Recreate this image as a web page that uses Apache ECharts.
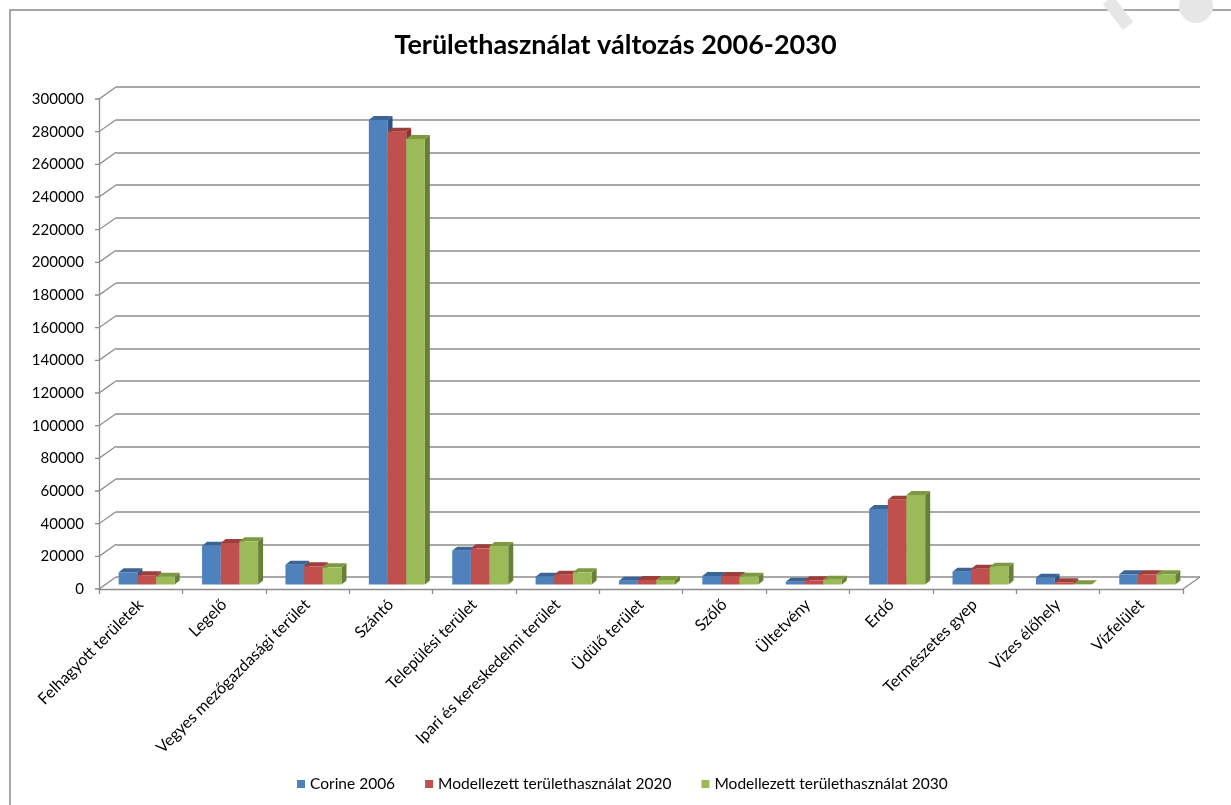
<!DOCTYPE html>
<html>
<head>
<meta charset="utf-8">
<script src="https://cdn.jsdelivr.net/npm/echarts@6/dist/echarts.min.js"></script>
<style>
  html, body { margin: 0; padding: 0; background: #fff; }
  #plot { width: 1231px; height: 805px; }
</style>
</head>
<body>
<div id="plot"></div>
<script>
var categories = ['Felhagyott területek', 'Legelő', 'Vegyes mezőgazdasági terület', 'Szántó',
	'Települési terület', 'Ipari és kereskedelmi terület', 'Üdülő terület', 'Szőlő',
	'Ültetvény', 'Erdő', 'Természetes gyep', 'Vizes élőhely', 'Vízfelület'];
var seriesNames = ['Corine 2006', 'Modellezett területhasználat 2020', 'Modellezett területhasználat 2030'];
var corine2006 = [7500, 23750, 12100, 284400, 20700, 4800, 2300, 5200, 1700, 46200, 7850, 4150, 6250];
var model2020 = [5700, 25400, 11150, 277200, 22150, 6000, 2750, 5200, 2600, 51900, 9650, 1350, 6250];
var model2030 = [4800, 26450, 10500, 272700, 23550, 7450, 2750, 4800, 2950, 54800, 10900, 100, 6250];
var yTicks = [0, 20000, 40000, 60000, 80000, 100000, 120000, 140000, 160000, 180000,
	200000, 220000, 240000, 260000, 280000, 300000];

var fontFam = 'Lato, "Open Sans", sans-serif';
var lineCol = '#8c8c8c';
// front, top, side colours per series
var faces = [
	['#4f81bd', '#3b6595', '#2f5380'],
	['#c0504d', '#9e3e3b', '#8a3431'],
	['#9bbb59', '#7d9a43', '#687f37']
];

function toPairs (arr) {
	var out = [];
	for (var i = 0; i < arr.length; i++) out.push([i, arr[i]]);
	return out;
}

function barRenderer (k) {
	return function (params, api) {
		var base = api.coord([api.value(0), 0]);
		var top = api.coord([api.value(0), api.value(1)]);
		var band = api.size([1, 0])[0];
		var bw = band * 0.224;
		var sx = 6, sy = -4.5, dx = 5, dy = -4;
		var x0 = base[0] - 1.5 * bw + k * bw + sx;
		var yb = base[1] + sy;
		var yt = top[1] + sy;
		var f = faces[k];
		return {
			type: 'group',
			children: [
				{ type: 'polygon', shape: { points: [[x0 + bw, yt], [x0 + bw + dx, yt + dy], [x0 + bw + dx, yb + dy], [x0 + bw, yb]] },
					style: { fill: f[2] } },
				{ type: 'polygon', shape: { points: [[x0, yt], [x0 + dx, yt + dy], [x0 + bw + dx, yt + dy], [x0 + bw, yt]] },
					style: { fill: f[1] } },
				{ type: 'rect', shape: { x: x0, y: yt, width: bw, height: yb - yt },
					style: { fill: f[0] } }
			]
		};
	};
}

function tickRenderer (params, api) {
	var p = api.coord([0, api.value(0)]);
	var cs = params.coordSys;
	var x = cs.x;
	var children = [
		{ type: 'polyline', shape: { points: [[x - 4, p[1]], [x, p[1]], [x + 17, p[1] - 12]] },
			style: { stroke: lineCol, lineWidth: 1.3, fill: null } }
	];
	if (api.value(0) === 0) {
		var xr = cs.x + cs.width;
		children.push({ type: 'line', shape: { x1: xr, y1: p[1], x2: xr + 17, y2: p[1] - 12 },
			style: { stroke: lineCol, lineWidth: 1.3 } });
	}
	return { type: 'group', children: children };
}

var series = [
	{
		name: 'ticks', type: 'custom', xAxisIndex: 0, yAxisIndex: 0, silent: true,
		data: yTicks.map(function (v) { return [v]; }),
		encode: { y: 0 },
		renderItem: tickRenderer, z: 2
	}
];
var allData = [corine2006, model2020, model2030];
for (var k = 0; k < 3; k++) {
	series.push({
		name: seriesNames[k], type: 'custom', xAxisIndex: 0, yAxisIndex: 0,
		data: toPairs(allData[k]),
		encode: { x: 0, y: 1 },
		itemStyle: { color: faces[k][0] },
		renderItem: barRenderer(k), z: 5 + k
	});
}

var option = {
	animation: false,
	backgroundColor: '#fff',
	title: {
		text: 'Területhasználat változás 2006-2030',
		left: 'center', top: 27,
		textStyle: { fontFamily: fontFam, fontWeight: 'bold', fontSize: 27, color: '#000' }
	},
	legend: {
		bottom: 8, left: 292,
		data: seriesNames,
		icon: 'rect', itemWidth: 8, itemHeight: 8, itemGap: 30,
		textStyle: { fontFamily: fontFam, fontSize: 15.5, color: '#000' }
	},
	graphic: [
		{ type: 'rect', shape: { x: 10, y: 10, width: 1400, height: 1000 },
			style: { fill: null, stroke: '#8a8a8a', lineWidth: 1.5 }, z: -10 },
		{ type: 'line', shape: { x1: 1108, y1: 0, x2: 1128, y2: 26 },
			style: { stroke: '#e6e6e6', lineWidth: 13 }, z: -5 },
		{ type: 'circle', shape: { cx: 1196, cy: 6, r: 17 },
			style: { fill: '#e6e6e6' }, z: -5 }
	],
	grid: [
		{ left: 99, right: 48, top: 99, bottom: 216 },
		{ left: 116, right: 31, top: 87, bottom: 228 }
	],
	xAxis: [
		{
			type: 'category', gridIndex: 0, data: categories,
			axisLine: { lineStyle: { color: lineCol, width: 1.3 } },
			axisTick: { show: true, length: 5, lineStyle: { color: lineCol, width: 1.3 } },
			axisLabel: { rotate: 45, margin: 13, fontFamily: fontFam, fontSize: 16, color: '#000', interval: 0 },
			splitLine: { show: false }
		},
		{
			type: 'category', gridIndex: 1, data: categories,
			axisLine: { show: false }, axisTick: { show: false }, axisLabel: { show: false }
		}
	],
	yAxis: [
		{
			type: 'value', gridIndex: 0, min: 0, max: 300000, interval: 20000,
			axisLine: { show: true, lineStyle: { color: lineCol, width: 1.3 } },
			axisTick: { show: false },
			axisLabel: { margin: 15, fontFamily: fontFam, fontSize: 15, color: '#000',
				formatter: function (v) { return String(v); } },
			splitLine: { show: false }
		},
		{
			type: 'value', gridIndex: 1, min: 0, max: 300000, interval: 20000,
			axisLine: { show: false }, axisTick: { show: false }, axisLabel: { show: false },
			splitLine: { show: true, lineStyle: { color: lineCol, width: 1.5 } }
		}
	],
	series: series
};

var myChart = echarts.init(document.getElementById('plot'));
myChart.setOption(option);
</script>
</body>
</html>
